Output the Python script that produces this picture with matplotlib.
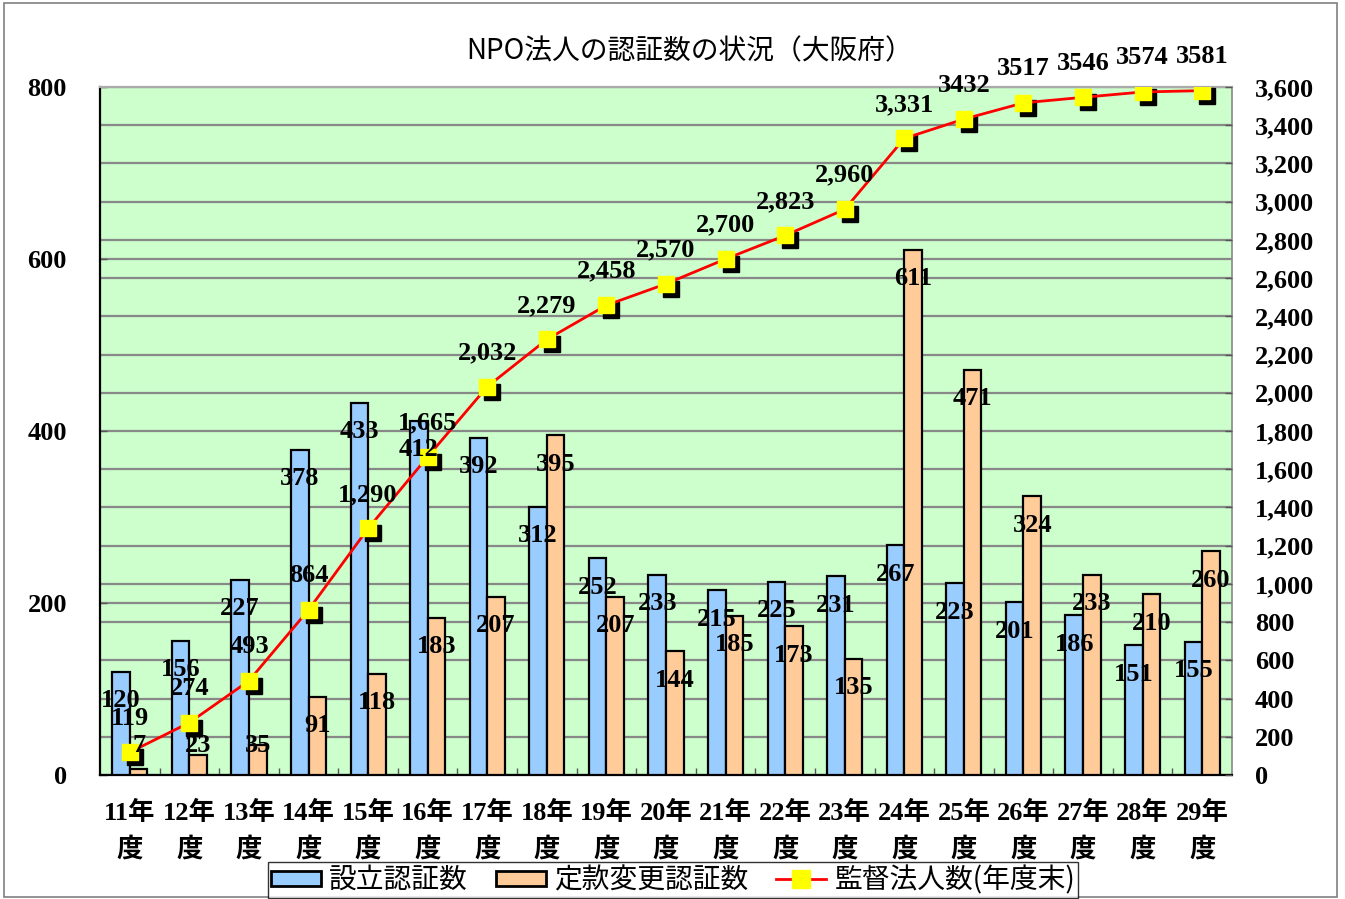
import matplotlib
matplotlib.use("Agg")
import matplotlib.pyplot as plt
from matplotlib.ticker import MultipleLocator, FuncFormatter, FixedLocator
from matplotlib.patches import Patch, Rectangle
from matplotlib.lines import Line2D
import matplotlib.transforms as mtransforms
import numpy as np

years = ["11年\n度", "12年\n度", "13年\n度", "14年\n度", "15年\n度", "16年\n度", "17年\n度",
         "18年\n度", "19年\n度", "20年\n度", "21年\n度", "22年\n度", "23年\n度", "24年\n度",
         "25年\n度", "26年\n度", "27年\n度", "28年\n度", "29年\n度"]
setsuritsu = [120, 156, 227, 378, 433, 412, 392, 312, 252, 233, 215, 225, 231, 267, 223, 201, 186, 151, 155]
teikan = [7, 23, 35, 91, 118, 183, 207, 395, 207, 144, 185, 173, 135, 611, 471, 324, 233, 210, 260]
kantoku = [119, 274, 493, 864, 1290, 1665, 2032, 2279, 2458, 2570, 2700, 2823, 2960, 3331, 3432, 3517, 3546, 3574, 3581]
kantoku_labels = ["119", "274", "493", "864", "1,290", "1,665", "2,032", "2,279", "2,458", "2,570",
                  "2,700", "2,823", "2,960", "3,331", "3432", "3517", "3546", "3574", "3581"]

title = "NPO法人の認証数の状況（大阪府）"
leg_names = ["設立認証数", "定款変更認証数", "監督法人数(年度末)"]

BLUE = "#99CCFF"
ORANGE = "#FFCC99"
GREEN = "#CCFFCC"
NUMFONT = ["Liberation Serif", "Noto Sans CJK JP"]
SANS = ["Noto Sans CJK JP", "DejaVu Sans"]
FS = 19
px2pt = 72/100

fig = plt.figure(figsize=(13.45, 8.99), dpi=100)
fig.patch.set_facecolor("white")
# outer border
fig.add_artist(Rectangle((4/1345, 0.002), 1333/1345, 1 - 3/899 - 0.002, transform=fig.transFigure,
                         fill=False, edgecolor="#808080", linewidth=1.2))

ax = fig.add_axes([100/1345, 1 - 775/899, (1232 - 100)/1345, (775 - 87)/899])
ax.set_facecolor(GREEN)
x = np.arange(len(years))
w = 0.295
ax.bar(x - w/2, setsuritsu, width=w, color=BLUE, edgecolor="black", linewidth=1.6, zorder=3)
ax.bar(x + w/2, teikan, width=w, color=ORANGE, edgecolor="black", linewidth=1.6, zorder=3)
ax.set_xlim(-0.5, len(years) - 0.5)
ax.set_ylim(0, 800)
ax.yaxis.set_major_locator(MultipleLocator(200))
ax.yaxis.set_minor_locator(MultipleLocator(800/18))
ax.grid(axis="y", which="minor", color="#888888", linewidth=1.6, zorder=1)
ax.grid(axis="y", which="major", color="#888888", linewidth=1.6, zorder=1)
ax.set_axisbelow(True)
ax.set_xticks(x)
ax.set_xticklabels(years, fontfamily=NUMFONT, fontweight="bold", fontsize=FS, linespacing=1.6)
ax.xaxis.set_minor_locator(FixedLocator(np.arange(0.5, len(years) - 0.5, 1)))
ax.tick_params(axis="x", which="major", length=0, pad=26*px2pt)
ax.tick_params(axis="x", which="minor", direction="in", length=5, width=1, color="#555555")
ax.tick_params(axis="y", which="major", direction="in", length=5, width=1, color="#555555", pad=33*px2pt)
ax.tick_params(axis="y", which="minor", length=0)
for lab in ax.get_yticklabels():
    lab.set_fontfamily(NUMFONT); lab.set_fontweight("bold"); lab.set_fontsize(FS)
ax.spines["left"].set_color("black"); ax.spines["left"].set_linewidth(1.6)
ax.spines["bottom"].set_color("black"); ax.spines["bottom"].set_linewidth(1.6)
ax.spines["top"].set_color("#aaaaaa"); ax.spines["top"].set_linewidth(1.6)
ax.spines["right"].set_color("#888888"); ax.spines["right"].set_linewidth(1.2)

ax2 = ax.twinx()
ax2.set_ylim(0, 3600)
ax2.yaxis.set_major_locator(MultipleLocator(200))
ax2.yaxis.set_major_formatter(FuncFormatter(lambda v, p: f"{int(v):,}"))
ax2.tick_params(axis="y", direction="in", length=5, width=1, color="#555555", pad=23*px2pt)
for lab in ax2.get_yticklabels():
    lab.set_fontfamily(NUMFONT); lab.set_fontweight("bold"); lab.set_fontsize(FS)
for s in ax2.spines.values():
    s.set_visible(False)

shadow = mtransforms.offset_copy(ax2.transData, fig=fig, x=5, y=-5, units="dots")
ax2.plot(x, kantoku, linestyle="none", marker="s", markersize=12, color="black",
         transform=shadow, zorder=4)
ax2.plot(x, kantoku, color="#FF0000", linewidth=2, marker="s", markersize=12,
         markerfacecolor="#FFFF00", markeredgecolor="#FFFF00", zorder=5)

for xi, v, t in zip(x, kantoku, kantoku_labels):
    ax2.annotate(t, xy=(xi, v), xytext=(0, 34*px2pt), textcoords="offset points",
                 ha="center", va="center", fontfamily=NUMFONT, fontweight="bold",
                 fontsize=FS, zorder=6)
for xi, v in zip(x, setsuritsu):
    ax2.annotate(str(v), xy=(xi - w/2, max(v, 67.5)), xycoords=ax.transData,
                 xytext=(0, -29*px2pt), textcoords="offset points",
                 ha="center", va="center", fontfamily=NUMFONT, fontweight="bold",
                 fontsize=FS, zorder=7)
for xi, v in zip(x, teikan):
    ax2.annotate(str(v), xy=(xi + w/2, max(v, 67.5)), xycoords=ax.transData,
                 xytext=(0, -29*px2pt), textcoords="offset points",
                 ha="center", va="center", fontfamily=NUMFONT, fontweight="bold",
                 fontsize=FS, zorder=7)

fig.text(690/1345, 1 - 51/899, title, ha="center", va="center", fontfamily=SANS, fontsize=20)

handles = [Patch(facecolor=BLUE, edgecolor="black", linewidth=2.0),
           Patch(facecolor=ORANGE, edgecolor="black", linewidth=2.0),
           Line2D([0], [0], color="#FF0000", linewidth=2, marker="s", markersize=13,
                  markerfacecolor="#FFFF00", markeredgecolor="#FFFF00")]
leg = fig.legend(handles, leg_names, loc="center", bbox_to_anchor=(673/1345, 1 - 880/899), ncol=3,
                 prop={"family": SANS, "size": 20}, frameon=True, fancybox=False,
                 edgecolor="black", borderpad=0.12, handlelength=1.8, handleheight=0.45,
                 columnspacing=1.0, handletextpad=0.3, borderaxespad=0)
leg.get_frame().set_linewidth(1.0)

fig.savefig("out.png", dpi=100, facecolor="white")
